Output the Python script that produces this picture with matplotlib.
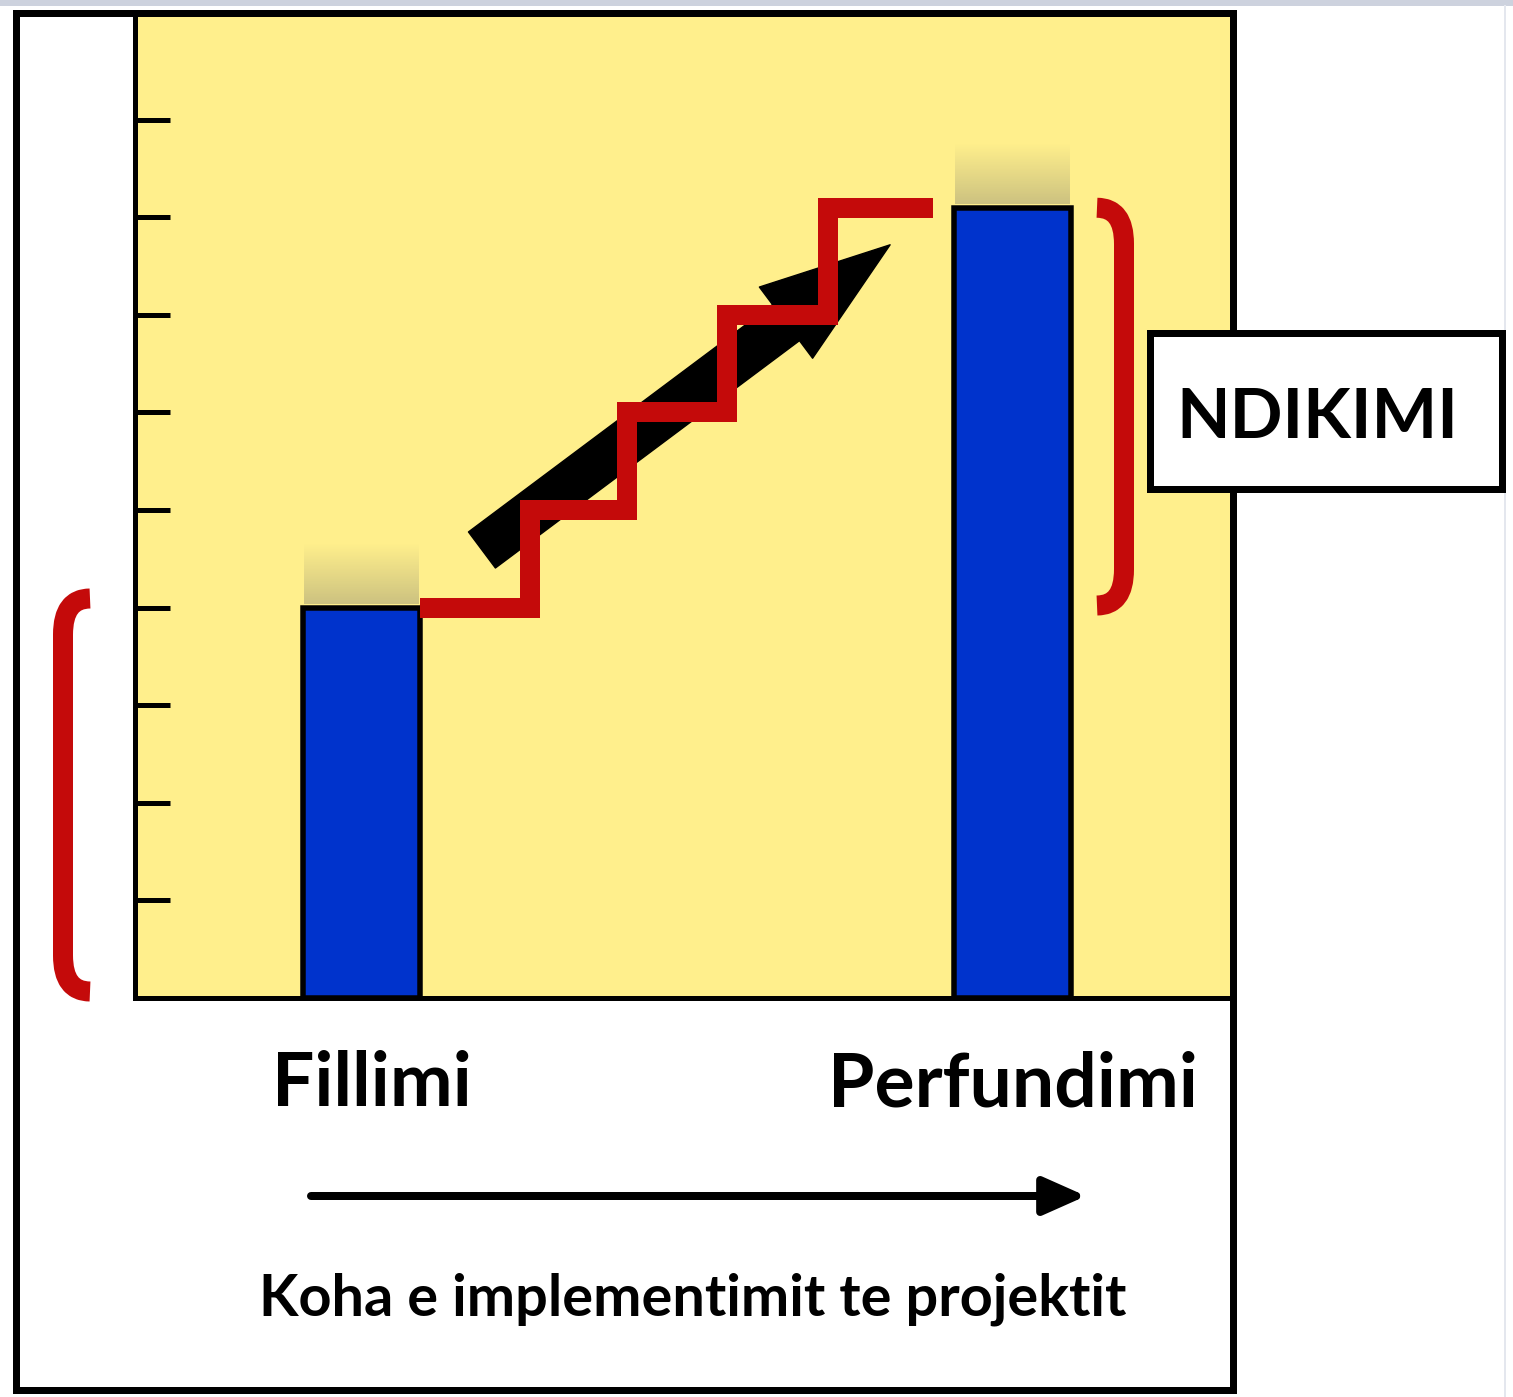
import numpy as np
import matplotlib
matplotlib.use("Agg")
import matplotlib.pyplot as plt
from matplotlib.path import Path
from matplotlib.patches import PathPatch, Rectangle
from matplotlib.transforms import ScaledTranslation

# ---------------- data ----------------
categories = ["Fillimi", "Perfundimi"]
bar_positions = [0, 1]
bar_values = [4.0, 8.1]
stair_levels = [4.0, 5.0, 6.0, 7.0, 8.1]
stair_edges = [0.09, 0.259, 0.408, 0.562, 0.717, 0.878]
ytick_values = [1, 2, 3, 4, 5, 6, 7, 8, 9]
trend_tail = (0.185, 4.59)
trend_tip = (0.812, 7.72)
box_label = "NDIKIMI"
axis_caption = "Koha e implementimit te projektit"

# ---------------- style ----------------
W, H, DPI = 1513, 1397, 100
PT = 72.0 / DPI
YELLOW = "#FFEF8C"
BLUE = "#0033CC"
RED = "#C40A0A"
FONT = "Lato"

fig = plt.figure(figsize=(W / DPI, H / DPI), dpi=DPI)
fig.patch.set_facecolor("white")


def px_rect(l, t, r, b):
    return [l / W, 1 - b / H, (r - l) / W, (b - t) / H]


ax = fig.add_axes(px_rect(135, 16, 1230, 997.5))
ax.set_facecolor(YELLOW)

ax.bar(bar_positions, bar_values, width=0.18, color=BLUE,
       edgecolor="black", linewidth=5.5 * PT, zorder=3)

# soft shadow above bars
grad = np.zeros((60, 1, 4))
grad[..., 0] = 0.45
grad[..., 1] = 0.45
grad[..., 2] = 0.42
grad[:, 0, 3] = np.linspace(0.36, 0.0, 60)
for x, v in zip(bar_positions, bar_values):
    ax.imshow(grad, extent=(x - 0.088, x + 0.088, v + 0.04, v + 0.66),
              origin="lower", aspect="auto", interpolation="bilinear", zorder=2)

# trend arrow
ax.annotate("", xy=trend_tip, xytext=trend_tail,
            arrowprops=dict(arrowstyle="simple,head_length=0.936,head_width=0.64,tail_width=0.324",
                            color="black", shrinkA=0, shrinkB=0, mutation_scale=100),
            zorder=4)

# staircase
st = ax.stairs(stair_levels, stair_edges, baseline=None, color=RED,
               linewidth=20 * PT, zorder=5)
st.set_joinstyle("miter")
st.set_capstyle("butt")

ax.set_xlim((135 - 361.5) / 651, (1230 - 361.5) / 651)
ax.set_ylim(0, (997.5 - 16) / 97.5)
ax.set_yticks(ytick_values)
ax.set_yticklabels([])
ax.tick_params(axis="y", direction="in", length=35 * PT, width=5 * PT, color="black")
ax.set_xticks(bar_positions)
ax.set_xticklabels(categories, fontsize=54, fontweight="bold", family=FONT)
ax.tick_params(axis="x", length=0, pad=38)
first = ax.get_xticklabels()[0]
first.set_transform(first.get_transform() + ScaledTranslation(10 / DPI, 0, fig.dpi_scale_trans))
for s in ["left", "bottom"]:
    ax.spines[s].set_linewidth(5 * PT)
    ax.spines[s].set_color("black")
for s in ["top", "right"]:
    ax.spines[s].set_visible(False)

# ---------------- overlay (pixel coordinates, y from top) ----------------
ov = fig.add_axes([0, 0, 1, 1])
ov.set_xlim(0, W)
ov.set_ylim(H, 0)
ov.axis("off")
ov.patch.set_alpha(0)


def ypx(v):
    return H - ax.transData.transform((0, v))[1]


# top strip and faint right border
ov.add_patch(Rectangle((0, 0), W, 6, color="#CDD2DE", lw=0))
ov.plot([1505, 1505], [6, H], color="#E4E7EE", lw=2 * PT)

# outer frame
ov.add_patch(Rectangle((16, 13), 1233 - 16, 1390 - 13, fill=False,
                       ec="black", lw=7 * PT, zorder=3))


def bracket(xv, xend, ytop, ybot, r):
    verts = [(xend, ytop), (xv, ytop), (xv, ytop + r),
             (xv, ybot - r), (xv, ybot), (xend, ybot)]
    codes = [Path.MOVETO, Path.CURVE3, Path.CURVE3,
             Path.LINETO, Path.CURVE3, Path.CURVE3]
    ov.add_patch(PathPatch(Path(verts, codes), fill=False, ec=RED,
                           lw=20 * PT, capstyle="butt", joinstyle="round", zorder=4))


bracket(63, 90, ypx(bar_values[0]) - 9, ypx(0) - 6, 36)
bracket(1124, 1097, ypx(bar_values[1]), ypx(bar_values[0]) - 2, 36)

# impact box
ov.add_patch(Rectangle((1150, 333), 352, 156, fc="white", ec="black",
                       lw=7 * PT, zorder=5))
ov.text(1317, 438, box_label, ha="center", va="baseline", fontsize=50,
        fontweight="bold", family=FONT, zorder=6)

# time arrow
ov.annotate("", xy=(1086, 1196), xytext=(311, 1196),
            arrowprops=dict(arrowstyle="-|>,head_length=0.36,head_width=0.16",
                            lw=8 * PT, color="black", shrinkA=0, shrinkB=0,
                            mutation_scale=72))
ov.text(693, 1315, axis_caption, ha="center", va="baseline", fontsize=41.5,
        fontweight="bold", family=FONT)

fig.savefig("out.png", dpi=DPI)
